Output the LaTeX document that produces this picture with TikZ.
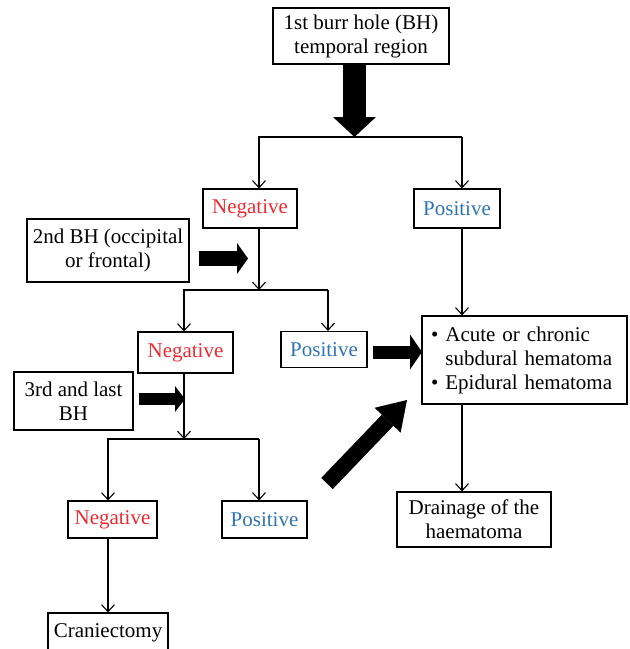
\documentclass[tikz,border=0pt]{standalone}
\usepackage{fontspec}
\setmainfont{Liberation Serif}
\usetikzlibrary{arrows.meta}
\definecolor{NegRed}{HTML}{EE2A2F}
\definecolor{PosBlue}{HTML}{2E74B5}
\begin{document}
\begin{tikzpicture}[x=1pt,y=-1pt,
    box/.style={draw,line width=1.2pt,inner sep=0pt,align=center,font=\fontsize{21}{24}\selectfont},
    link/.style={line width=1.1pt,-{Straight Barb[length=7pt,width=13pt]}},
    fatarrow/.style n args={3}{line width=#1,-{Triangle[length=#2,width=#3,line width=0pt]}}]
        \useasboundingbox(0,0)rectangle(630,649);
        \clip(0,0)rectangle(630,649);
        % boxes
        \node[box,minimum width=176pt,minimum height=56pt](top)at(361,36){1st burr hole (BH)\\temporal region};
        \node[box,NegRed,draw=black,minimum width=94pt,minimum height=39pt](neg1)at(250,208.5){Negative};
        \node[box,PosBlue,draw=black,minimum width=86pt,minimum height=39pt](pos1)at(457,208.5){Positive};
        \node[box,minimum width=162pt,minimum height=63pt](bh2)at(108,250.5){2nd BH (occipital\\or frontal)};
        \node[box,NegRed,draw=black,minimum width=95pt,minimum height=41pt](neg2)at(185.5,352.5){Negative};
        \node[box,PosBlue,draw=black,minimum width=86pt,minimum height=36pt](pos2)at(324,349.5){Positive};
        \node[box,minimum width=119pt,minimum height=58pt](bh3)at(73.5,401){3rd and last\\BH};
        \node[box,NegRed,draw=black,minimum width=89pt,minimum height=37pt](neg3)at(112.5,519.5){Negative};
        \node[box,PosBlue,draw=black,minimum width=85pt,minimum height=37pt](pos3)at(264.5,519.5){Positive};
        \node[box,minimum width=120pt,minimum height=40pt](cran)at(108,633){Craniectomy};
        \node[box,align=left,text width=187pt,minimum width=205pt,minimum height=88pt](hema)at(524.5,360)
            {\textbullet\ Acute or chronic\\\hphantom{\textbullet\ }subdural hematoma\\\textbullet\ Epidural hematoma};
        \node[box,minimum width=154pt,minimum height=55pt](drain)at(474,519.5){Drainage of the\\haematoma};
        % split points and arrow tips
        \coordinate(k0)at(354.5,137);
        \coordinate(k1)at(259,137);\coordinate(k1r)at(462,137);
        \coordinate(k2)at(259,290);\coordinate(k2l)at(184,290);\coordinate(k2r)at(328,290);
        \coordinate(k3)at(184,439);\coordinate(k3l)at(108,439);\coordinate(k3r)at(259,439);
        \coordinate(t2)at(248,258.5);\coordinate(t3)at(185,399);\coordinate(t4)at(422,352);
        \coordinate(t5)at(407,400);\coordinate(tail5)at(327,483.5);
        % thin connectors
        \draw[link](k1r)--(k1)--(k1|-neg1.north);
        \draw[link](k1r)--(k1r|-pos1.north);
        \draw[link](k1|-neg1.south)--(k2);
        \draw[link](k2r)--(k2l)--(k2l|-neg2.north);
        \draw[link](k2r)--(k2r|-pos2.north);
        \draw[link](k1r|-pos1.south)--(k1r|-hema.north);
        \draw[link](k2l|-neg2.south)--(k3);
        \draw[link](k3r)--(k3l)--(k3l|-neg3.north);
        \draw[link](k3r)--(k3r|-pos3.north);
        \draw[link](k3l|-neg3.south)--(k3l|-cran.north);
        \draw[link](k1r|-hema.south)--(k1r|-drain.north);
        % block arrows
        \draw[fatarrow={23pt}{20pt}{43pt}](k0|-top.south)--(k0);
        \draw[fatarrow={15pt}{11pt}{31pt}]([xshift=9pt]t2-|bh2.east)--(t2);
        \draw[fatarrow={12pt}{10pt}{26pt}]([xshift=5pt]t3-|bh3.east)--(t3);
        \draw[fatarrow={13pt}{12pt}{35pt}]([xshift=5pt]t4-|pos2.east)--(t4);
        \draw[fatarrow={16pt}{28pt}{36pt}](tail5)--(t5);
      \end{tikzpicture}
\end{document}
